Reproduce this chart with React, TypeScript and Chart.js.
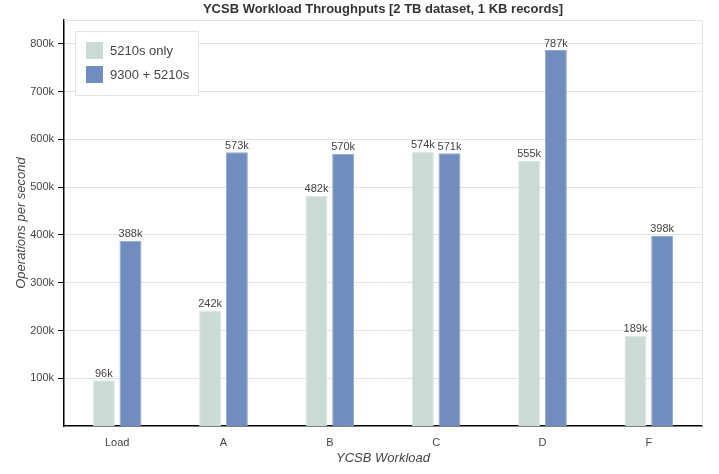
import React, { useEffect, useRef } from "react";
import { Chart, registerables } from "chart.js";

Chart.register(...registerables);

const categories = ["Load", "A", "B", "C", "D", "F"];
const series5210 = [96, 242, 482, 574, 555, 189];
const series9300 = [388, 573, 570, 571, 787, 398];
const seriesLabels = ["5210s only", "9300 + 5210s"];
const yTickValues = [100, 200, 300, 400, 500, 600, 700, 800];
const titleText = "YCSB Workload Throughputs [2 TB dataset, 1 KB records]";

const FONT = "'Liberation Sans', Arial, Helvetica, sans-serif";

const titlePlugin = {
  id: "centeredTitle",
  afterDraw(chart: any) {
    const { ctx, chartArea } = chart;
    ctx.save();
    ctx.font = `bold 13px ${FONT}`;
    ctx.fillStyle = "#333";
    ctx.textAlign = "center";
    ctx.textBaseline = "middle";
    ctx.fillText(titleText, (chartArea.left + chartArea.right) / 2, 9);
    ctx.restore();
  },
};

const barLabelPlugin = {
  id: "barLabels",
  afterDatasetsDraw(chart: any) {
    const ctx = chart.ctx;
    ctx.save();
    ctx.font = `11px ${FONT}`;
    ctx.fillStyle = "#444";
    ctx.textAlign = "center";
    ctx.textBaseline = "bottom";
    chart.data.datasets.forEach((ds: any, i: number) => {
      const meta = chart.getDatasetMeta(i);
      meta.data.forEach((bar: any, j: number) => {
        ctx.fillText(`${ds.data[j]}k`, bar.x, bar.y - 1);
      });
    });
    ctx.restore();
  },
};

const framePlugin = {
  id: "frame",
  beforeDatasetsDraw(chart: any) {
    const { ctx, chartArea } = chart;
    ctx.save();
    ctx.strokeStyle = "#e2e2e2";
    ctx.lineWidth = 1;
    ctx.beginPath();
    ctx.moveTo(chartArea.left, chartArea.top + 0.5);
    ctx.lineTo(chartArea.right + 0.5, chartArea.top + 0.5);
    ctx.lineTo(chartArea.right + 0.5, chartArea.bottom);
    ctx.stroke();
    ctx.restore();
  },
};

const legendBoxPlugin = {
  id: "legendBox",
  afterDraw(chart: any) {
    const { ctx, chartArea } = chart;
    const x = chartArea.left + 11;
    const y = chartArea.top + 11;
    const w = 123;
    const h = 64;
    ctx.save();
    ctx.fillStyle = "#ffffff";
    ctx.fillRect(x, y, w, h);
    ctx.strokeStyle = "#e4e4e4";
    ctx.lineWidth = 1;
    ctx.strokeRect(x + 0.5, y + 0.5, w, h);
    ctx.font = `13px ${FONT}`;
    ctx.textBaseline = "middle";
    ctx.textAlign = "left";
    chart.data.datasets.forEach((ds: any, i: number) => {
      const sy = y + 11 + i * 24;
      ctx.fillStyle = ds.backgroundColor;
      ctx.fillRect(x + 11, sy, 17, 17);
      ctx.fillStyle = "#444";
      ctx.fillText(ds.label, x + 35, sy + 9);
    });
    ctx.restore();
  },
};

export default function App() {
  const ref = useRef<HTMLCanvasElement>(null);
  useEffect(() => {
    document.body.style.margin = "0";
    const chart = new Chart(ref.current!, {
      type: "bar",
      data: {
        labels: categories,
        datasets: [
          {
            label: seriesLabels[0],
            data: series5210,
            backgroundColor: "#c9dbd4",
            borderColor: "#dbe7e3",
            borderWidth: 1,
          },
          {
            label: seriesLabels[1],
            data: series9300,
            backgroundColor: "#718dc0",
            borderColor: "#8ea5d0",
            borderWidth: 1,
          },
        ],
      },
      options: {
        animation: false,
        responsive: false,
        devicePixelRatio: 1,
        layout: { padding: { left: 0, right: 17, top: 20, bottom: 0 } },
        datasets: {
          bar: { categoryPercentage: 0.502, barPercentage: 0.824 },
        },
        plugins: {
          legend: { display: false },
          tooltip: { enabled: false },
          title: { display: false },
        },
        scales: {
          x: {
            grid: { display: false, drawTicks: false },
            border: { display: true, color: "#000", width: 1.5 },
            ticks: { color: "#444", font: { family: FONT, size: 11 }, padding: 10 },
            title: {
              display: true,
              text: "YCSB Workload",
              color: "#444",
              font: { family: FONT, size: 13, style: "italic" },
              padding: { top: 0, bottom: 8 },
            },
            afterFit(scale: any) {
              scale.height = 48;
            },
          },
          y: {
            min: 0,
            max: 850,
            ticks: {
              stepSize: 100,
              color: "#444",
              font: { family: FONT, size: 11 },
              padding: 4,
              callback: (v: any) => `${v}k`,
            },
            afterBuildTicks(scale: any) {
              scale.ticks = yTickValues.map((v) => ({ value: v }));
            },
            grid: {
              color: "#e2e2e2",
              tickColor: "#000",
              tickLength: 6,
            },
            border: { display: true, color: "#000", width: 1.5 },
            title: {
              display: true,
              text: "Operations per second",
              color: "#444",
              font: { family: FONT, size: 13, style: "italic" },
              padding: { top: 14, bottom: 0 },
            },
            afterFit(scale: any) {
              scale.width = 64;
            },
          },
        },
      },
      plugins: [framePlugin, barLabelPlugin, legendBoxPlugin, titlePlugin],
    });
    return () => chart.destroy();
  }, []);
  return (
    <div style={{ width: 719, height: 474 }}>
      <canvas ref={ref} width={719} height={474} />
    </div>
  );
}
